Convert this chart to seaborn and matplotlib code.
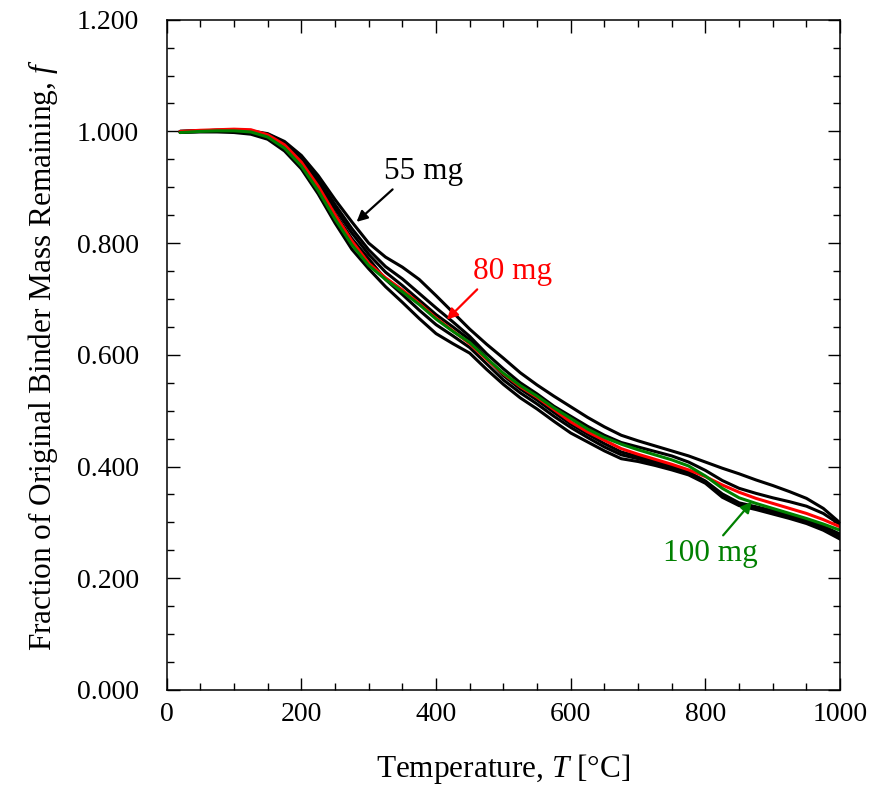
#!/usr/bin/env python3
"""TGA binder mass curves: fraction of original binder mass vs temperature."""

import matplotlib

matplotlib.use("Agg")
import matplotlib.pyplot as plt
import pandas as pd
import seaborn as sns
from matplotlib.ticker import MultipleLocator, FormatStrFormatter

# temperature grid [°C]
temperature = [20, 50, 75, 100, 125, 150, 175, 200, 225, 250, 275, 300, 325, 350, 375,
               400, 425, 450, 475, 500, 525, 550, 575, 600, 625, 650, 675, 700, 725,
               750, 775, 800, 825, 850, 875, 900, 925, 950, 975, 1000]

# black runs (the upper one is the 55 mg sample)
black_1 = [1.000, 1.001, 1.002, 1.002, 1.001, 0.996, 0.982, 0.957, 0.921, 0.878, 0.838, 0.800,
           0.775, 0.757, 0.735, 0.706, 0.676, 0.646, 0.619, 0.594, 0.568, 0.546, 0.526, 0.507,
           0.488, 0.471, 0.456, 0.446, 0.437, 0.428, 0.419, 0.408, 0.397, 0.387, 0.376, 0.366,
           0.355, 0.343, 0.325, 0.299]
black_2 = [1.000, 1.001, 1.002, 1.002, 1.000, 0.995, 0.980, 0.953, 0.915, 0.869, 0.826, 0.788,
           0.758, 0.736, 0.710, 0.684, 0.659, 0.633, 0.602, 0.575, 0.550, 0.530, 0.508, 0.490,
           0.472, 0.456, 0.443, 0.435, 0.427, 0.419, 0.408, 0.393, 0.375, 0.361, 0.352, 0.344,
           0.337, 0.329, 0.316, 0.296]
black_3 = [1.000, 1.001, 1.001, 1.001, 1.000, 0.994, 0.978, 0.950, 0.910, 0.862, 0.818, 0.780,
           0.748, 0.724, 0.698, 0.672, 0.650, 0.627, 0.594, 0.563, 0.539, 0.519, 0.497, 0.476,
           0.458, 0.441, 0.426, 0.418, 0.409, 0.400, 0.390, 0.374, 0.351, 0.335, 0.328, 0.321,
           0.313, 0.304, 0.293, 0.279]
black_4 = [0.999, 1.000, 1.000, 1.000, 0.998, 0.991, 0.974, 0.944, 0.903, 0.853, 0.808, 0.772,
           0.735, 0.708, 0.680, 0.654, 0.634, 0.613, 0.584, 0.555, 0.532, 0.512, 0.490, 0.470,
           0.452, 0.435, 0.421, 0.414, 0.405, 0.397, 0.387, 0.372, 0.348, 0.332, 0.325, 0.318,
           0.310, 0.301, 0.290, 0.275]
black_5 = [0.998, 0.999, 0.999, 0.998, 0.995, 0.986, 0.965, 0.933, 0.888, 0.836, 0.789, 0.754,
           0.722, 0.694, 0.665, 0.638, 0.620, 0.603, 0.574, 0.547, 0.523, 0.503, 0.481, 0.460,
           0.444, 0.428, 0.414, 0.409, 0.402, 0.394, 0.385, 0.370, 0.345, 0.330, 0.323, 0.315,
           0.307, 0.298, 0.286, 0.270]

# 80 mg (red) and 100 mg (green)
red_80 = [1.000, 1.002, 1.003, 1.004, 1.003, 0.994, 0.976, 0.945, 0.902, 0.851, 0.804, 0.764,
          0.738, 0.716, 0.692, 0.666, 0.643, 0.620, 0.592, 0.566, 0.543, 0.524, 0.502, 0.480,
          0.462, 0.447, 0.432, 0.422, 0.413, 0.404, 0.394, 0.382, 0.367, 0.354, 0.343, 0.334,
          0.325, 0.316, 0.305, 0.292]
green_100 = [0.998, 1.000, 1.001, 1.001, 0.999, 0.990, 0.970, 0.938, 0.894, 0.843, 0.797, 0.760,
             0.735, 0.713, 0.690, 0.664, 0.642, 0.622, 0.594, 0.567, 0.545, 0.526, 0.505, 0.486,
             0.467, 0.452, 0.440, 0.430, 0.421, 0.412, 0.401, 0.383, 0.361, 0.344, 0.334, 0.325,
             0.316, 0.307, 0.297, 0.286]

GREEN = "#008000"

sns.set_style("ticks")
plt.rcParams["font.family"] = ["Liberation Serif", "DejaVu Serif"]
plt.rcParams["mathtext.fontset"] = "custom"
plt.rcParams["mathtext.rm"] = "Liberation Serif"
plt.rcParams["mathtext.it"] = "Liberation Serif:italic"
plt.rcParams["text.color"] = "black"
plt.rcParams["axes.labelcolor"] = "black"
plt.rcParams["xtick.color"] = "black"
plt.rcParams["ytick.color"] = "black"

fig = plt.figure(figsize=(8.77, 7.97), dpi=100)
ax = fig.add_axes([0.190, 0.1343, 0.768, 0.841])

runs = [(black_1, "black"), (black_2, "black"), (black_3, "black"),
        (black_4, "black"), (black_5, "black"), (red_80, "red"), (green_100, GREEN)]
for values, colour in runs:
    df = pd.DataFrame({"T": temperature, "f": values})
    sns.lineplot(data=df, x="T", y="f", color=colour, lw=2.2, sort=False,
                 estimator=None, ax=ax)

ax.set_xlim(0, 1000)
ax.set_ylim(0, 1.2)
ax.xaxis.set_major_locator(MultipleLocator(200))
ax.xaxis.set_minor_locator(MultipleLocator(50))
ax.yaxis.set_major_locator(MultipleLocator(0.2))
ax.yaxis.set_minor_locator(MultipleLocator(0.05))
ax.yaxis.set_major_formatter(FormatStrFormatter("%.3f"))

ax.tick_params(which="both", direction="in", top=True, right=True,
               labelsize=20, width=1.0, color="black", labelcolor="black")
ax.tick_params(which="major", length=9)
ax.tick_params(which="minor", length=5)
ax.tick_params(axis="x", pad=9)
ax.tick_params(axis="y", pad=20)
for spine in ax.spines.values():
    spine.set_linewidth(1.1)
    spine.set_color("black")

ax.set_xlabel("Temperature, $T$ [°C]", fontsize=22.5, labelpad=18)
ax.set_ylabel("Fraction of Original Binder Mass Remaining, $f$", fontsize=22.5, labelpad=12)

arrow = dict(arrowstyle="-|>", lw=1.6, mutation_scale=16, shrinkA=0, shrinkB=0)
ax.annotate("55 mg", xy=(282, 0.838), xytext=(382, 0.928), fontsize=22.5,
            ha="center", va="center", color="black",
            arrowprops=dict(arrow, color="black", relpos=(0.15, 0.0)))
ax.annotate("80 mg", xy=(416, 0.663), xytext=(513, 0.749), fontsize=22.5,
            ha="center", va="center", color="red",
            arrowprops=dict(arrow, color="red", relpos=(0.1, 0.0)))
ax.annotate("100 mg", xy=(869, 0.337), xytext=(808, 0.245), fontsize=22.5,
            ha="center", va="center", color=GREEN,
            arrowprops=dict(arrow, color=GREEN, relpos=(0.6, 1.0)))

fig.savefig("out.png", dpi=100)
